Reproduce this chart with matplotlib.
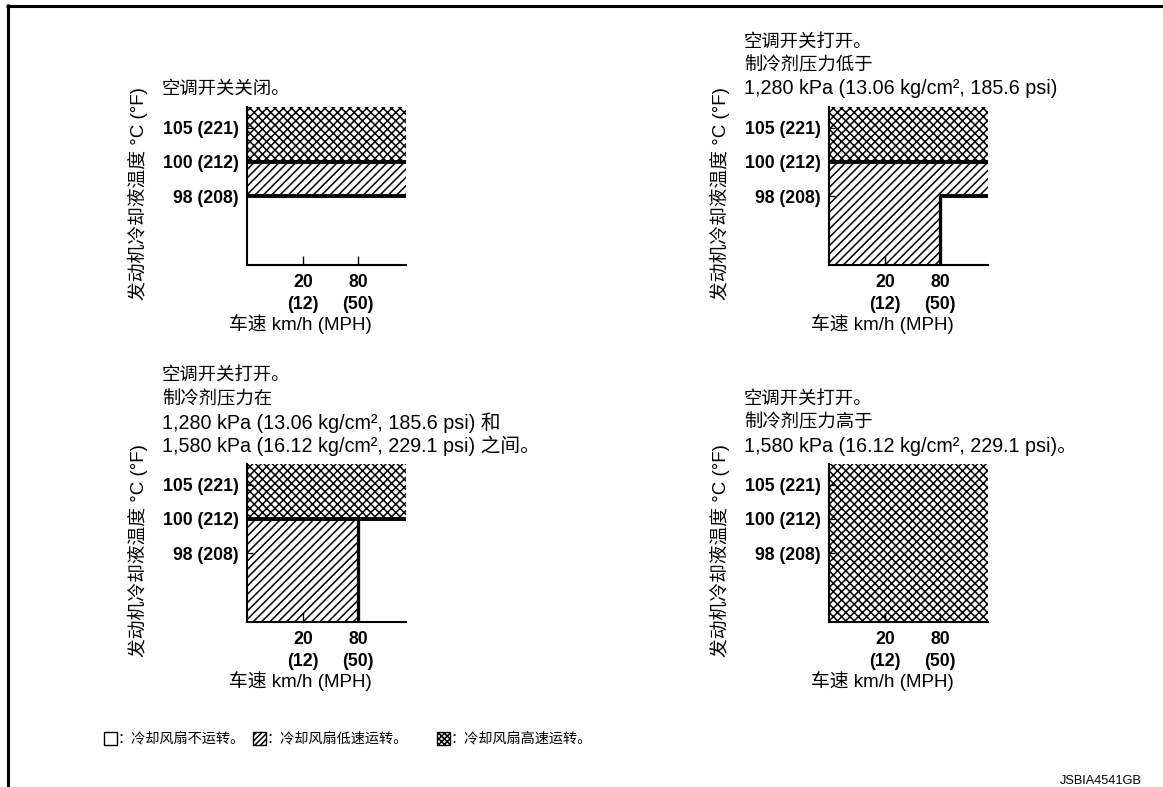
import numpy as np
import matplotlib
matplotlib.use('Agg')
import matplotlib.pyplot as plt
from matplotlib.patches import Rectangle
from matplotlib.lines import Line2D

# ---------------- data ----------------
temp_ticks = [98, 100, 105]
temp_labels = ['98 (208)', '100 (212)', '105 (221)']
speed_ticks = [20, 80]
speed_labels = ['20\n(12)', '80\n(50)']
speed_split = 80
T_MIN, T_MAX = 90, 108
V_MIN, V_MAX = 0, 120

panel_titles = [
    ['空调开关关闭。'],
    ['空调开关打开。', '制冷剂压力低于', '1,280 kPa (13.06 kg/cm², 185.6 psi)'],
    ['空调开关打开。', '制冷剂压力在', '1,280 kPa (13.06 kg/cm², 185.6 psi) 和',
     '1,580 kPa (16.12 kg/cm², 229.1 psi) 之间。'],
    ['空调开关打开。', '制冷剂压力高于', '1,580 kPa (16.12 kg/cm², 229.1 psi)。'],
]
# temperature at which the fan switches to high speed
high_on = [100, 100, 100, 90]
# temperature at which the fan switches to low speed (below / above speed_split)
low_on_slow = [98, 90, 90, 90]
low_on_fast = [98, 98, 100, 90]

y_label = '发动机冷却液温度 °C (°F)'
x_label = '车速 km/h (MPH)'
legend_labels = ['：冷却风扇不运转。', '：冷却风扇低速运转。', '：冷却风扇高速运转。']
figure_code = 'JSBIA4541GB'

# ---------------- layout / style ----------------
plt.rcParams['font.family'] = ['Liberation Sans', 'Noto Sans CJK SC']
plt.rcParams['hatch.linewidth'] = 1.1
plt.rcParams['hatch.color'] = 'black'

W, H = 1163, 787
fig = plt.figure(figsize=(W / 100, H / 100), dpi=100)


def fx(px):
    return px / W


def fy(py):
    return 1 - py / H


# schematic (non-linear) axes
temp_knots = [T_MIN, 98, 100, 105, T_MAX]
temp_pos = [0.0, 0.436, 0.653, 0.87, 1.0]
speed_knots = [V_MIN, 20, 80, V_MAX]
speed_pos = [0.0, 0.352, 0.70, 1.0]


def t_fwd(t):
    return np.interp(t, temp_knots, temp_pos)


def t_inv(p):
    return np.interp(p, temp_pos, temp_knots)


def v_fwd(v):
    return np.interp(v, speed_knots, speed_pos)


def v_inv(p):
    return np.interp(p, speed_pos, speed_knots)


AX_W, AX_H = 159, 158
ax_left = [247, 829, 247, 829]
ax_top = [107, 107, 464, 464]
HEAVY = 2.8
CROSS = 'xxxx'
DIAG = '////'

for i in range(4):
    L, T = ax_left[i], ax_top[i]
    ax = fig.add_axes([fx(L), fy(T + AX_H), AX_W / W, AX_H / H])
    ax.set_xscale('function', functions=(v_fwd, v_inv))
    ax.set_yscale('function', functions=(t_fwd, t_inv))
    ax.set_xlim(V_MIN, V_MAX)
    ax.set_ylim(T_MIN, T_MAX)

    # high-speed zone
    ax.fill_between([V_MIN, V_MAX], high_on[i], T_MAX, facecolor='white',
                    edgecolor='black', hatch=CROSS, linewidth=0, zorder=1)
    # low-speed zone
    if low_on_slow[i] < high_on[i]:
        ax.fill_between([V_MIN, speed_split], low_on_slow[i], high_on[i],
                        facecolor='white', edgecolor='black', hatch=DIAG,
                        linewidth=0, zorder=1)
    if low_on_fast[i] < high_on[i]:
        ax.fill_between([speed_split, V_MAX], low_on_fast[i], high_on[i],
                        facecolor='white', edgecolor='black', hatch=DIAG,
                        linewidth=0, zorder=1)

    # heavy boundary lines
    if high_on[i] > T_MIN:
        ax.plot([V_MIN, V_MAX], [high_on[i], high_on[i]], color='black',
                lw=HEAVY, solid_capstyle='butt', zorder=3)
    if T_MIN < low_on_slow[i] < high_on[i]:
        ax.plot([V_MIN, speed_split], [low_on_slow[i]] * 2, color='black',
                lw=HEAVY, solid_capstyle='butt', zorder=3)
    if low_on_slow[i] != low_on_fast[i]:
        ax.plot([speed_split, speed_split],
                [min(low_on_slow[i], low_on_fast[i]), max(low_on_slow[i], low_on_fast[i]) + 0.05],
                color='black', lw=HEAVY * 0.85, solid_capstyle='butt', zorder=3)
    if T_MIN < low_on_fast[i] < high_on[i]:
        ax.plot([speed_split - 0.3, V_MAX], [low_on_fast[i]] * 2, color='black',
                lw=HEAVY, solid_capstyle='butt', zorder=3)

    for s in ['top', 'right']:
        ax.spines[s].set_visible(False)
    for s in ['left', 'bottom']:
        ax.spines[s].set_linewidth(1.5)
        ax.spines[s].set_zorder(4)

    ax.set_yticks(temp_ticks, labels=temp_labels)
    ax.set_xticks(speed_ticks, labels=speed_labels)
    ax.minorticks_off()
    ax.tick_params(axis='y', direction='in', length=4, width=0.9, pad=6,
                   labelsize=12.7)
    ax.tick_params(axis='x', direction='in', length=6.5, width=1.0, pad=6.5,
                   labelsize=12.7)
    for lbl in ax.get_yticklabels() + ax.get_xticklabels():
        lbl.set_fontweight('bold')
    for lbl in ax.get_xticklabels():
        lbl.set_linespacing(1.4)

    ax.set_ylabel(y_label, fontsize=13.5, rotation=90, ha='center', va='center')
    ax.yaxis.set_label_coords(-0.684, 0.45)
    ax.set_xlabel(x_label, fontsize=13.5, ha='center', va='center')
    ax.xaxis.set_label_coords(0.333, -0.372)

    # panel title (condition)
    lines = panel_titles[i]
    n = len(lines)
    for k, line in enumerate(lines):
        yc = T - 18 - 23.5 * (n - 1 - k)
        size = 14.2 if any(c.isascii() and c.isalnum() for c in line) else 13.2
        fig.text(fx(L - 85), fy(yc), line, ha='left', va='center', fontsize=size)

# ---------------- legend ----------------
box_left = [104, 253.3, 436.7]
box_hatch = ['', '//////', 'xxxxxx']
BOX = 13
box_top = 731.7
for bl, hh, lab in zip(box_left, box_hatch, legend_labels):
    fig.patches.append(Rectangle((fx(bl), fy(box_top + BOX)), BOX / W, BOX / H,
                                 transform=fig.transFigure, facecolor='white',
                                 edgecolor='black', hatch=hh, linewidth=1.0))
    fig.text(fx(bl + BOX + 0.5), fy(738.3), lab, ha='left', va='center',
             fontsize=10.2)

fig.text(fx(1142), fy(781), figure_code, ha='right', va='center', fontsize=9.2)

# ---------------- frame ----------------
fig.add_artist(Line2D([fx(6), 1], [fy(5.5), fy(5.5)], transform=fig.transFigure,
                      color='black', lw=2.2, solid_capstyle='butt'))
fig.add_artist(Line2D([fx(7.5), fx(7.5)], [fy(4.4), 0], transform=fig.transFigure,
                      color='black', lw=2.2, solid_capstyle='butt'))

fig.savefig('out.png', dpi=100, facecolor='white')
